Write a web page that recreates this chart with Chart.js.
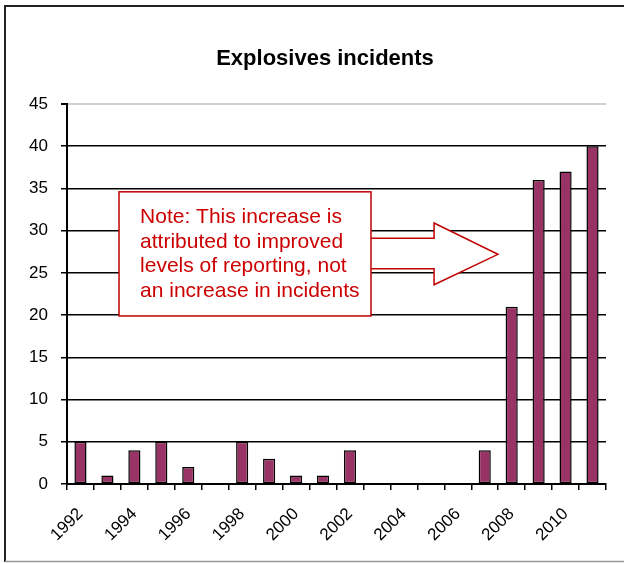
<!DOCTYPE html>
<html>
<head>
  <script src="https://cdn.jsdelivr.net/npm/chart.js"></script>
  <style>
    body { margin: 0px; background: white; }
    canvas { display: block; }
  </style>
</head>
<body>
  <canvas id="barChart" width="624" height="563"></canvas>

  <script>
    // Data
    var years = ['1992', '1993', '1994', '1995', '1996', '1997', '1998', '1999', '2000', '2001',
                 '2002', '2003', '2004', '2005', '2006', '2007', '2008', '2009', '2010', '2011'];
    var incidents = [5, 1, 4, 5, 2, 0, 5, 3, 1, 1, 4, 0, 0, 0, 0, 4, 21, 36, 37, 40];
    var yMax = 45;
    var yStep = 5;
    var chartTitle = 'Explosives incidents';
    var noteLines = [
      'Note: This increase is',
      'attributed to improved',
      'levels of reporting, not',
      'an increase in incidents'
    ];

    var FONT = '"Liberation Sans", Arial, sans-serif';

    // Outer frame and title (the title sits a little left of the plot centre)
    var framePlugin = {
      id: 'frame',
      beforeDraw: function(chart) {
        var ctx = chart.ctx;
        ctx.save();
        ctx.fillStyle = 'white';
        ctx.fillRect(0, 0, chart.width, chart.height);
        ctx.strokeStyle = '#222';
        ctx.lineWidth = 2;
        ctx.beginPath();
        ctx.moveTo(5, 562);
        ctx.lineTo(5, 6);
        ctx.lineTo(chart.width, 6);
        ctx.stroke();
        ctx.strokeStyle = '#999';
        ctx.lineWidth = 1.5;
        ctx.beginPath();
        ctx.moveTo(5, 561.5);
        ctx.lineTo(chart.width, 561.5);
        ctx.stroke();

        ctx.fillStyle = '#000';
        ctx.font = 'bold 22px ' + FONT;
        ctx.textAlign = 'center';
        ctx.textBaseline = 'middle';
        ctx.fillText(chartTitle, 325, 59);
        ctx.restore();
      }
    };

    // Callout box and arrow, placed in axis units
    var notePlugin = {
      id: 'note',
      afterDatasetsDraw: function(chart) {
        var ctx = chart.ctx;
        var x = chart.scales.x, y = chart.scales.y;
        var px = function(v) { return x.getPixelForValue(v); };
        var py = function(v) { return y.getPixelForValue(v); };
        ctx.save();

        // arrow
        ctx.beginPath();
        ctx.moveTo(px(10.7), py(29.1));
        ctx.lineTo(px(13.12), py(29.1));
        ctx.lineTo(px(13.12), py(30.9));
        ctx.lineTo(px(15.49), py(27.2));
        ctx.lineTo(px(13.12), py(23.6));
        ctx.lineTo(px(13.12), py(25.5));
        ctx.lineTo(px(10.7), py(25.5));
        ctx.fillStyle = 'white';
        ctx.fill();
        ctx.strokeStyle = '#c00000';
        ctx.lineWidth = 1.5;
        ctx.stroke();

        // box
        var bx = px(1.43), by = py(34.6);
        var bw = px(10.78) - bx, bh = py(19.9) - by;
        ctx.fillStyle = 'white';
        ctx.fillRect(bx, by, bw, bh);
        ctx.strokeRect(bx, by, bw, bh);

        // text
        ctx.fillStyle = '#cc0000';
        ctx.font = '21px ' + FONT;
        ctx.textAlign = 'left';
        ctx.textBaseline = 'alphabetic';
        var tx = px(2.21), ty = py(30.9);
        noteLines.forEach(function(line, i) {
          ctx.fillText(line, tx, ty + i * 24.5);
        });
        ctx.restore();
      }
    };

    var config = {
      type: 'bar',
      data: {
        labels: years,
        datasets: [{
          label: chartTitle,
          data: incidents,
          backgroundColor: '#993366',
          borderColor: '#000000',
          borderWidth: 1.5,
          borderSkipped: false,
          categoryPercentage: 1.0,
          barPercentage: 0.45
        }]
      },
      options: {
        responsive: false,
        animation: false,
        layout: { padding: { left: 0, right: 18, top: 104, bottom: 0 } },
        plugins: {
          legend: { display: false },
          tooltip: { enabled: false },
          title: { display: false }
        },
        scales: {
          x: {
            offset: true,
            afterFit: function(scale) { scale.height = 79; },
            grid: {
              offset: true,
              drawOnChartArea: false,
              drawTicks: true,
              tickLength: 6,
              color: '#000',
              lineWidth: 1.5
            },
            border: { display: true, color: '#000', width: 2 },
            ticks: {
              autoSkip: false,
              minRotation: 45,
              maxRotation: 45,
              padding: 14,
              color: '#000',
              font: { family: FONT, size: 17 },
              callback: function(val, i) {
                return i % 2 === 0 ? this.getLabelForValue(val) : '';
              }
            }
          },
          y: {
            min: 0,
            max: yMax,
            afterFit: function(scale) { scale.width = 67; },
            grid: {
              color: function(c) { return c.tick.value === yMax ? '#d0d0d0' : '#000'; },
              lineWidth: function(c) { return c.tick.value === yMax ? 2 : 1.5; },
              tickColor: '#000',
              tickLength: 6
            },
            border: { display: true, color: '#000', width: 2 },
            ticks: {
              stepSize: yStep,
              padding: 13,
              color: '#000',
              font: { family: FONT, size: 17 }
            }
          }
        }
      },
      plugins: [framePlugin, notePlugin]
    };

    var ctx = document.getElementById('barChart').getContext('2d');
    new Chart(ctx, config);
  </script>
</body>
</html>
